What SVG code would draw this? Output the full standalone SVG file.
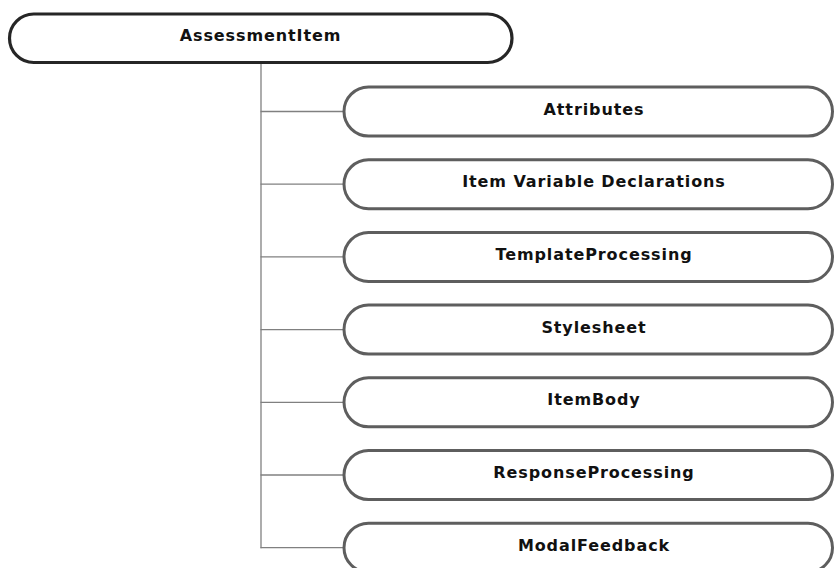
<svg xmlns="http://www.w3.org/2000/svg" width="835" height="568" viewBox="0 0 835 568">
<style>
.root{fill:#fff;stroke:#262626;stroke-width:3.2}
.child{fill:#fff;stroke:#5e5e5e;stroke-width:3}
.lbl{font-family:"DejaVu Sans","Verdana",sans-serif;font-weight:bold;font-size:16px;fill:#111;text-anchor:middle;letter-spacing:0.9px}
.conn line{stroke:#808080;stroke-width:1.3}
</style>
<rect width="835" height="568" fill="#fff"/>
<g class="conn">
<line x1="261" y1="63" x2="261" y2="548.3"/>
<line x1="260.5" y1="111.5" x2="343" y2="111.5"/>
<line x1="260.5" y1="184.2" x2="343" y2="184.2"/>
<line x1="260.5" y1="256.9" x2="343" y2="256.9"/>
<line x1="260.5" y1="329.6" x2="343" y2="329.6"/>
<line x1="260.5" y1="402.3" x2="343" y2="402.3"/>
<line x1="260.5" y1="475" x2="343" y2="475"/>
<line x1="260.5" y1="547.7" x2="343" y2="547.7"/>
</g>
<g id="assessmentItem"><rect class="root" x="9.5" y="14" width="502.5" height="48.5" rx="24.25"/><text class="lbl" x="260.5" y="40.5">AssessmentItem</text></g>
<g id="attributes"><rect class="child" x="344" y="87" width="488.5" height="49" rx="24.5"/><text class="lbl" x="594" y="114.5">Attributes</text></g>
<g id="itemVariableDeclarations"><rect class="child" x="344" y="159.7" width="488.5" height="49" rx="24.5"/><text class="lbl" x="594" y="187.2">Item Variable Declarations</text></g>
<g id="templateProcessing"><rect class="child" x="344" y="232.4" width="488.5" height="49" rx="24.5"/><text class="lbl" x="594" y="259.9">TemplateProcessing</text></g>
<g id="stylesheet"><rect class="child" x="344" y="305.1" width="488.5" height="49" rx="24.5"/><text class="lbl" x="594" y="332.6">Stylesheet</text></g>
<g id="itemBody"><rect class="child" x="344" y="377.8" width="488.5" height="49" rx="24.5"/><text class="lbl" x="594" y="405.3">ItemBody</text></g>
<g id="responseProcessing"><rect class="child" x="344" y="450.5" width="488.5" height="49" rx="24.5"/><text class="lbl" x="594" y="478">ResponseProcessing</text></g>
<g id="modalFeedback"><rect class="child" x="344" y="523.2" width="488.5" height="49" rx="24.5"/><text class="lbl" x="594" y="550.7">ModalFeedback</text></g>
</svg>
